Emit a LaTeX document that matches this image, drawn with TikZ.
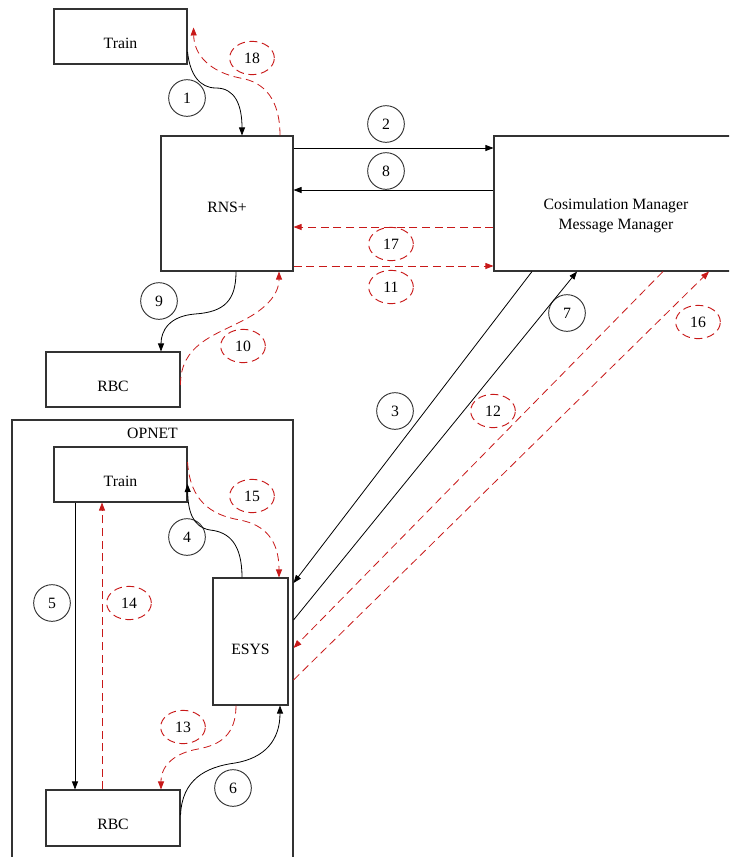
\documentclass[tikz,border=0pt]{standalone}
\usepackage{fontspec}
\setmainfont{Liberation Serif}
\usetikzlibrary{arrows.meta,shapes.geometric,calc}
\definecolor{dred}{RGB}{200,25,25}

\begin{document}
\begin{tikzpicture}[
        x=0.75pt, y=-0.75pt,
        font=\fontsize{11.8}{15}\selectfont,
        block/.style={rectangle, draw=black!80, line width=0.8pt},
        txt/.style={yshift=-5pt},
        num/.style={circle, draw=black!80, line width=0.7pt, minimum size=27.5pt, inner sep=0pt},
        dnum/.style={ellipse, draw=dred, dash pattern=on 6pt off 3.5pt, line width=0.7pt,
            minimum width=33.5pt, minimum height=25pt, inner sep=0pt},
        line/.style={draw, line width=0.6pt, -{Triangle[length=6pt, width=4.5pt]}},
        dline/.style={draw=dred, line width=0.6pt, dash pattern=on 6pt off 3.5pt,
            -{Triangle[length=6pt, width=4.5pt]}}
    ]
    \useasboundingbox (0,0) rectangle (729,857);
    \clip (0,0) rectangle (729,857);

    \node [block, minimum width=210.75pt, minimum height=337.5pt,
        label={[anchor=north, yshift=-3pt]north:OPNET}] (opnet) at (152.5,645) {};
    \node [block, minimum width=99.75pt, minimum height=41.25pt, label={[txt]center:Train}] (train1) at (120.5,36.5) {};
    \node [block, minimum width=99pt, minimum height=101.25pt, label={[yshift=-3pt]center:RNS+}] (rns) at (227,203.5) {};
    \node [block, minimum width=183pt, minimum height=101.25pt,
        label={[yshift=-9pt, align=center]center:Cosimulation Manager\\Message Manager}] (cosim) at (616,203.5) {};
    \node [block, minimum width=100.5pt, minimum height=41.25pt, label={[txt]center:RBC}] (rbc1) at (113,379.5) {};
    \node [block, minimum width=99.75pt, minimum height=41.25pt, label={[txt]center:Train}] (train2) at (120.5,474.5) {};
    \node [block, minimum width=56.25pt, minimum height=95.25pt, label={[yshift=-6pt]center:ESYS}] (esys) at (250.5,641.5) {};
    \node [block, minimum width=100.5pt, minimum height=42pt, label={[txt]center:RBC}] (rbc2) at (113,818) {};

    \node [num] (n1) at (187,98) {1};
    \node [num] (n2) at (386,124) {2};
    \node [num] (n3) at (395,411) {3};
    \node [num] (n4) at (187,537) {4};
    \node [num] (n5) at (52,603) {5};
    \node [num] (n6) at (233,788) {6};
    \node [num] (n7) at (567,313) {7};
    \node [num] (n8) at (386,171) {8};
    \node [num] (n9) at (159,301) {9};
    \node [dnum] (n10) at (243,346) {10};
    \node [dnum] (n11) at (391,287) {11};
    \node [dnum] (n12) at (493,411) {12};
    \node [dnum] (n13) at (183,727) {13};
    \node [dnum] (n14) at (129,603) {14};
    \node [dnum] (n15) at (252,496) {15};
    \node [dnum] (n16) at (698,322) {16};
    \node [dnum] (n17) at (391,244) {17};
    \node [dnum] (n18) at (252,58) {18};

    \path [line] (train1.east |- 0,52) .. controls (190,75) and (200,88) .. (216,88)
        .. controls (235,88) and (242,105) .. (rns.north -| 242,0);
    \path [dline] (rns.north -| 280,0) .. controls (280,100) and (265,82) .. (240,78)
        .. controls (210,72) and (194,55) .. ($(train1.north east)+(6,19)$);
    \path [line] (rns.east |- 0,148) -- (cosim.west |- 0,148);
    \path [line] (cosim.west |- 0,190) -- (rns.east |- 0,190);
    \path [dline] (cosim.west |- 0,227) -- (rns.east |- 0,227);
    \path [dline] (rns.east |- 0,266) -- (cosim.west |- 0,266);
    \path [line] (rns.south -| 236,0) .. controls (236,300) and (225,312) .. (195,314)
        .. controls (170,316) and (161,330) .. (rbc1.north -| 161,0);
    \path [dline] (rbc1.east |- 0,385) .. controls (180,345) and (215,335) .. (240,322)
        .. controls (265,310) and (279,295) .. (rns.south -| 279,0);

    \path [line] (cosim.south -| 532,0) -- (opnet.east |- 0,583);
    \path [line] (opnet.east |- 0,620) -- (cosim.south -| 577,0);
    \path [dline] (cosim.south -| 663,0) -- (opnet.east |- 0,648);
    \path [dline] (opnet.east |- 0,680) -- (cosim.south -| 709,0);

    \path [line] (esys.north -| 242,0) .. controls (242,545) and (230,532) .. (210,530)
        .. controls (192,527) and (188,510) .. (train2.east |- 0,484);
    \path [dline] (train2.east |- 0,462) .. controls (190,500) and (210,515) .. (240,520)
        .. controls (265,525) and (279,540) .. (esys.north -| 279,0);
    \path [line] (train2.south -| 75,0) -- (rbc2.north -| 75,0);
    \path [dline] (rbc2.north -| 102,0) -- (train2.south -| 102,0);
    \path [dline] (esys.south -| 236,0) .. controls (236,735) and (220,745) .. (198,749)
        .. controls (175,753) and (161,765) .. (rbc2.north -| 161,0);
    \path [line] (rbc2.east |- 0,815) .. controls (182,780) and (205,767) .. (235,763)
        .. controls (265,758) and (280,740) .. (esys.south -| 280,0);
\end{tikzpicture}
\end{document}
